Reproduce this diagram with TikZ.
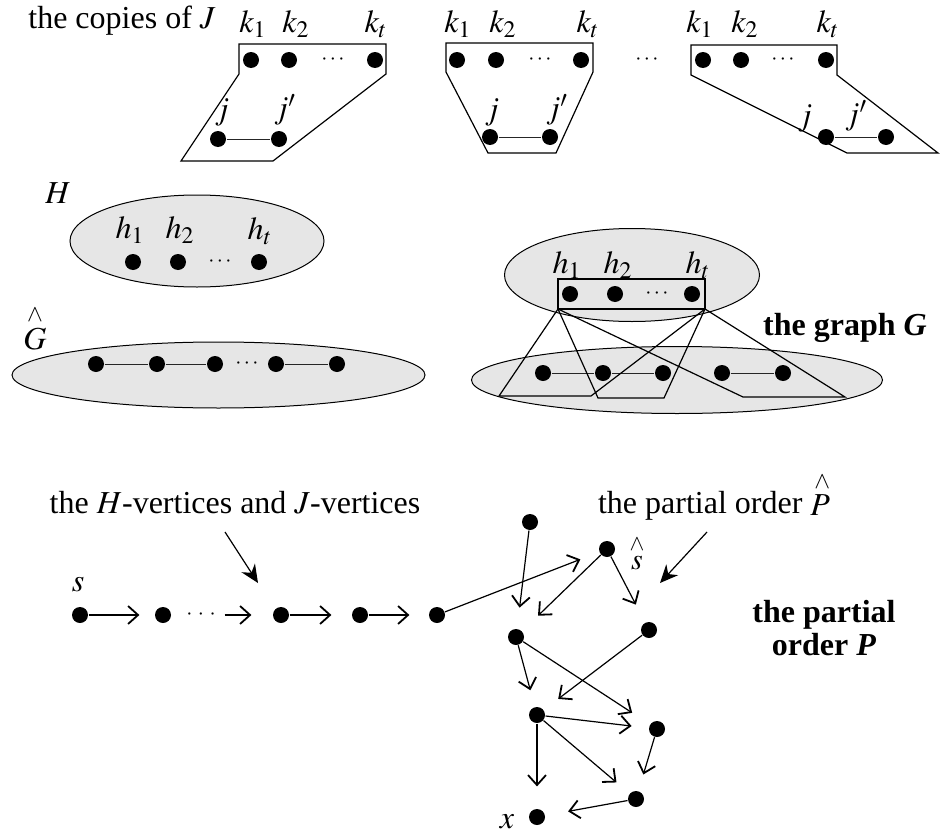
\documentclass[tikz,border=0pt]{standalone}
\usepackage{mathptmx}
\usepackage{fontspec}
\setmainfont{Liberation Serif}
\usetikzlibrary{arrows.meta,shapes.geometric}
\definecolor{ellgray}{RGB}{230,230,230}
\begin{document}
\begin{tikzpicture}[x=0.5pt,y=-0.5pt, line width=0.6pt,
  dot/.style={circle,fill=black,inner sep=0pt,minimum size=8pt},
  lbl/.style={inner sep=0pt, font=\fontsize{16}{19}\selectfont},
  dd/.style={inner sep=0pt, font=\fontsize{11}{12}\selectfont},
  edge/.style={line width=0.5pt, draw=black!85},
  hull/.style={line width=0.6pt},
  blob/.style={ellipse, draw, line width=0.5pt, fill=ellgray, inner sep=0pt},
  po/.style={-{Straight Barb[length=5pt,width=9pt,line width=0.9pt]}, line width=0.6pt},
  pointer/.style={-{Stealth[length=9pt,width=8pt]}, line width=0.6pt}]
\useasboundingbox (0,0) rectangle (943,835);

% ---------- top: copies of J ----------
\node[lbl, anchor=base] (copies) at (122,28) {the copies of $J$};

% copy 1
\draw[hull] (239,44) -- (386,44) -- (386,74) -- (273,161) -- (181,161) -- (239,74) -- cycle;
\node[dot] (a1) at (251,60) {};
\node[dot] (a2) at (289,60) {};
\node[dd]  (ad) at (333,60) {$\cdots$};
\node[dot] (at) at (375,60) {};
\node[dot] (aj) at (218,139) {};
\node[dot] (ajp) at (279,139) {};
\draw[edge] (aj) -- (ajp);
\node[lbl] (la1) at (253,24) {$k_1$};
\node[lbl] (la2) at (296,24) {$k_2$};
\node[lbl] (lat) at (376,24) {$k_t$};
\node[lbl] (laj) at (222,112) {$j$};
\node[lbl] (lajp) at (285,110) {$j'$};

% copy 2
\draw[hull] (446,43) -- (593,43) -- (593,72) -- (556,153) -- (488,153) -- (446,72) -- cycle;
\node[dot] (b1) at (457,60) {};
\node[dot] (b2) at (496,60) {};
\node[dd]  (bd) at (540,60) {$\cdots$};
\node[dot] (bt) at (581,60) {};
\node[dot] (bj) at (490,137) {};
\node[dot] (bjp) at (550,137) {};
\draw[edge] (bj) -- (bjp);
\node[lbl] (lb1) at (458,24) {$k_1$};
\node[lbl] (lb2) at (503,24) {$k_2$};
\node[lbl] (lbt) at (588,24) {$k_t$};
\node[lbl] (lbj) at (492,112) {$j$};
\node[lbl] (lbjp) at (557,110) {$j'$};

\node[dd] (between) at (647,60) {$\cdots$};

% copy 3
\draw[hull] (691,45) -- (837,45) -- (837,75) -- (938,153) -- (847,153) -- (691,75) -- cycle;
\node[dot] (c1) at (703,60) {};
\node[dot] (c2) at (741,60) {};
\node[dd]  (cd) at (783,60) {$\cdots$};
\node[dot] (ct) at (826,60) {};
\node[dot] (cj) at (826,137) {};
\node[dot] (cjp) at (886,137) {};
\draw[edge] (cj) -- (cjp);
\node[lbl] (lc1) at (700,24) {$k_1$};
\node[lbl] (lc2) at (745,24) {$k_2$};
\node[lbl] (lct) at (828,24) {$k_t$};
\node[lbl] (lcj) at (805,118) {$j$};
\node[lbl] (lcjp) at (856,116) {$j'$};

% ---------- H ----------
\node[blob, minimum width=127pt, minimum height=46pt] (H) at (197,241) {};
\node[lbl] (lH) at (58,193) {$H$};
\node[dot] (h1) at (133,262) {};
\node[dot] (h2) at (178,262) {};
\node[dd]  (hd) at (220,262) {$\cdots$};
\node[dot] (ht) at (259,262) {};
\node[lbl] (lh1) at (130,230) {$h_1$};
\node[lbl] (lh2) at (180,230) {$h_2$};
\node[lbl] (lht) at (260,231) {$h_t$};

% ---------- G hat ----------
\node[blob, minimum width=206.5pt, minimum height=33pt] (Gh) at (218.5,375) {};
\node[lbl] (lGh) at (35,328) {$\stackrel{\wedge}{G}$};
\node[dot] (g1) at (96,364) {};
\node[dot] (g2) at (157,364) {};
\node[dot] (g3) at (215,364) {};
\node[dd]  (gd) at (247,364) {$\cdots$};
\node[dot] (g4) at (276,364) {};
\node[dot] (g5) at (337,364) {};
\draw[edge] (g1) -- (g2) (g2) -- (g3) (g4) -- (g5);

% ---------- the graph G ----------
\node[blob, minimum width=127.5pt, minimum height=46.5pt] (GU) at (632,275) {};
\node[blob, minimum width=205.5pt, minimum height=33.5pt] (GL) at (677,380) {};
\draw[hull] (558,279) rectangle (705,309);
\coordinate (rl) at (558,309);
\coordinate (rr) at (705,309);
\node[dot] (r1) at (570,294) {};
\node[dot] (r2) at (615,294) {};
\node[dd]  (rd) at (657,294) {$\cdots$};
\node[dot] (rt) at (692,294) {};
\node[lbl] (lr1) at (567,265) {$h_1$};
\node[lbl] (lr2) at (618,265) {$h_2$};
\node[lbl] (lrt) at (698,265) {$h_t$};
\node[dot] (q1) at (543,373) {};
\node[dot] (q2) at (603,373) {};
\node[dot] (q3) at (663,373) {};
\node[dot] (q4) at (722,373) {};
\node[dot] (q5) at (783,373) {};
\draw[edge] (q1) -- (q2) (q2) -- (q3) (q4) -- (q5);
\draw[hull] (rl) -- (499,396) -- (591,396) -- (rr);
\draw[hull] (rl) -- (598,398) -- (664,398) -- (rr);
\draw[hull] (rl) -- (743,397) -- (845,397) -- (rr);
\node[lbl, font=\fontsize{16}{19}\selectfont\bfseries] (graphG) at (845,328) {the graph \textit{G}};

% ---------- bottom: chain ----------
\node[lbl, anchor=base] (hjtext) at (235,513) {the $H$-vertices and $J$-vertices};
\coordinate (p1s) at (225,532);
\coordinate (p1e) at (258,583);
\draw[pointer] (p1s) -- (p1e);

\node[dot] (s) at (80,615) {};
\node[lbl] (ls) at (78,585) {$s$};
\node[dot] (n2) at (163,615) {};
\node[dd]  (nd) at (201,615) {$\cdot\,\cdot\,\cdot$};
\node[dot] (n3) at (281,615) {};
\node[dot] (n4) at (360,615) {};
\node[dot] (n5) at (437,615) {};
\draw[po, shorten >=7.5pt] (s) -- (n2);
\draw[po, shorten <=26.5pt, shorten >=10.5pt] (n2) -- (n3);
\draw[po, shorten >=10pt] (n3) -- (n4);
\draw[po, shorten >=9.5pt] (n4) -- (n5);

% ---------- partial order ----------
\node[lbl, anchor=base] (potext) at (714,513) {the partial order $\stackrel{\wedge}{P}$};
\coordinate (p2s) at (707,532);
\coordinate (p2e) at (660,583);
\draw[pointer] (p2s) -- (p2e);

\node[dot] (t)  at (530,522) {};
\node[dot] (sh) at (607,549) {};
\node[lbl, font=\fontsize{15}{17}\selectfont] (lsh) at (637,553) {$\stackrel{\wedge}{s}$};
\node[dot] (a)  at (516,637) {};
\node[dot] (b)  at (649,630) {};
\node[dot] (c)  at (537,715) {};
\node[dot] (d)  at (657,729) {};
\node[dot] (e)  at (636,799) {};
\node[dot] (x)  at (537,817) {};
\node[lbl] (lx) at (507,822) {$x$};

\draw[po, shorten >=10pt] (n5) -- (sh);
\draw[po, shorten >=10.5pt] (t) -- (a);
\draw[po, shorten >=11pt] (sh) -- (a);
\draw[po, shorten >=10pt] (sh) -- (b);
\draw[po, shorten >=10.5pt] (a) -- (d);
\draw[po, shorten >=8.5pt] (a) -- (c);
\draw[po, shorten >=9pt] (b) -- (c);
\draw[po, shorten >=8.5pt] (c) -- (d);
\draw[po, shorten >=11pt] (c) -- (x);
\draw[po, shorten >=8.5pt] (c) -- (e);
\draw[po, shorten >=8.5pt] (d) -- (e);
\draw[po, shorten >=11.5pt] (e) -- (x);

\node[lbl, font=\fontsize{16}{16.5}\selectfont\bfseries, align=center] (potitle) at (824,628) {the partial\\order \textit{P}};
\end{tikzpicture}
\end{document}
